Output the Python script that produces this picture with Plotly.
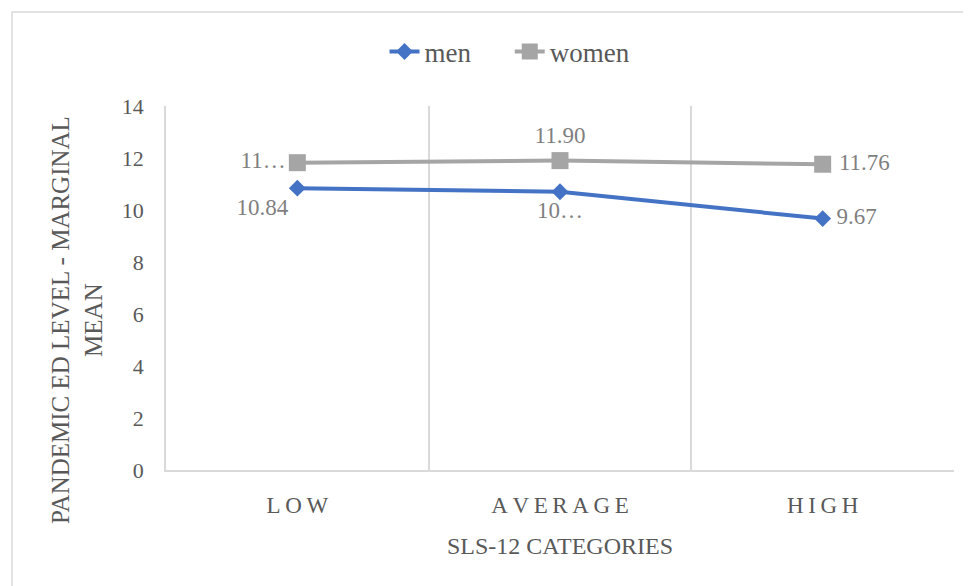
import plotly.graph_objects as go

categories = ["LOW", "AVERAGE", "HIGH"]
men = [10.84, 10.70, 9.67]
women = [11.82, 11.90, 11.76]
men_labels = ["10.84", "10…", "9.67"]
women_labels = ["11…", "11.90", "11.76"]
y_ticks = [0, 2, 4, 6, 8, 10, 12, 14]

FONT = "Liberation Serif"
TXT = "#595959"
LBL = "#7F7F7F"
GRID = "#D9D9D9"

spaced = ["\u2009".join(list(c)) for c in categories]
# page body has an 8px margin, so the figure is offset by (8, 8) on screen
OFF = 8
PL, PT, PR, PB = 166 - OFF, 106 - OFF, 954 - OFF, 470 - OFF
PW, PH = PR - PL, PB - PT

def px(x):
    return (x - OFF - PL) / PW

def py(y):
    return (PB - (y - OFF)) / PH

men_pos = ["bottom left", "bottom center", "middle right"]
women_pos = ["middle left", "top center", "middle right"]

def pad(labels, positions):
    return [("\u2009" + t) if p == "middle right" else t for t, p in zip(labels, positions)]

fig = go.Figure()
fig.add_trace(go.Scatter(
    x=categories, y=men, name="men" + "\u00a0" * 5, mode="lines+markers+text",
    line=dict(color="#4472C4", width=4),
    marker=dict(symbol="diamond", size=13, color="#4472C4"),
    text=pad(men_labels, men_pos), textposition=men_pos,
    textfont=dict(family=FONT, size=23, color=LBL),
))
fig.add_trace(go.Scatter(
    x=categories, y=women, name="women", mode="lines+markers+text",
    line=dict(color="#A5A5A5", width=4),
    marker=dict(symbol="square", size=17, color="#A5A5A5"),
    text=pad(women_labels, women_pos), textposition=women_pos,
    textfont=dict(family=FONT, size=23, color=LBL),
))

fig.update_layout(
    width=971, height=586,
    margin=dict(l=PL, r=971 - PR, t=PT, b=586 - PB),
    paper_bgcolor="white", plot_bgcolor="white",
    font=dict(family=FONT, color=TXT),
    showlegend=True,
    legend=dict(orientation="h", x=px(510), xanchor="center", y=py(52), yanchor="middle",
                font=dict(family=FONT, size=27, color=TXT), bgcolor="rgba(0,0,0,0)"),
    xaxis=dict(
        type="category", categoryorder="array", categoryarray=categories,
        tickvals=categories, ticktext=spaced,
        tickson="boundaries", range=[-0.5, 2.5],
        showgrid=True, gridcolor=GRID, gridwidth=1.5,
        showline=True, linecolor=GRID, linewidth=1.5,
        ticks="", ticklabelstandoff=14,
        tickfont=dict(family=FONT, size=23, color=TXT),
        title=dict(text="SLS-12 CATEGORIES", font=dict(family=FONT, size=24, color=TXT), standoff=20),
    ),
    yaxis=dict(
        range=[0, 14], tickvals=y_ticks, showgrid=False, zeroline=False,
        showline=True, linecolor=GRID, linewidth=1.5,
        ticks="", ticklabelstandoff=16,
        tickfont=dict(family=FONT, size=22, color=TXT),
    ),
    annotations=[dict(
        text="PANDEMIC ED LEVEL - MARGINAL<br>MEAN", textangle=-90,
        xref="paper", yref="paper", x=px(77), y=py(320),
        xanchor="center", yanchor="middle", showarrow=False,
        font=dict(family=FONT, size=25, color=TXT),
    )],
    shapes=[dict(type="rect", xref="paper", yref="paper",
                 x0=px(12), x1=1.2, y0=-0.6, y1=py(12),
                 line=dict(color=GRID, width=1.5), layer="below")],
)

fig.write_html("out.html")
